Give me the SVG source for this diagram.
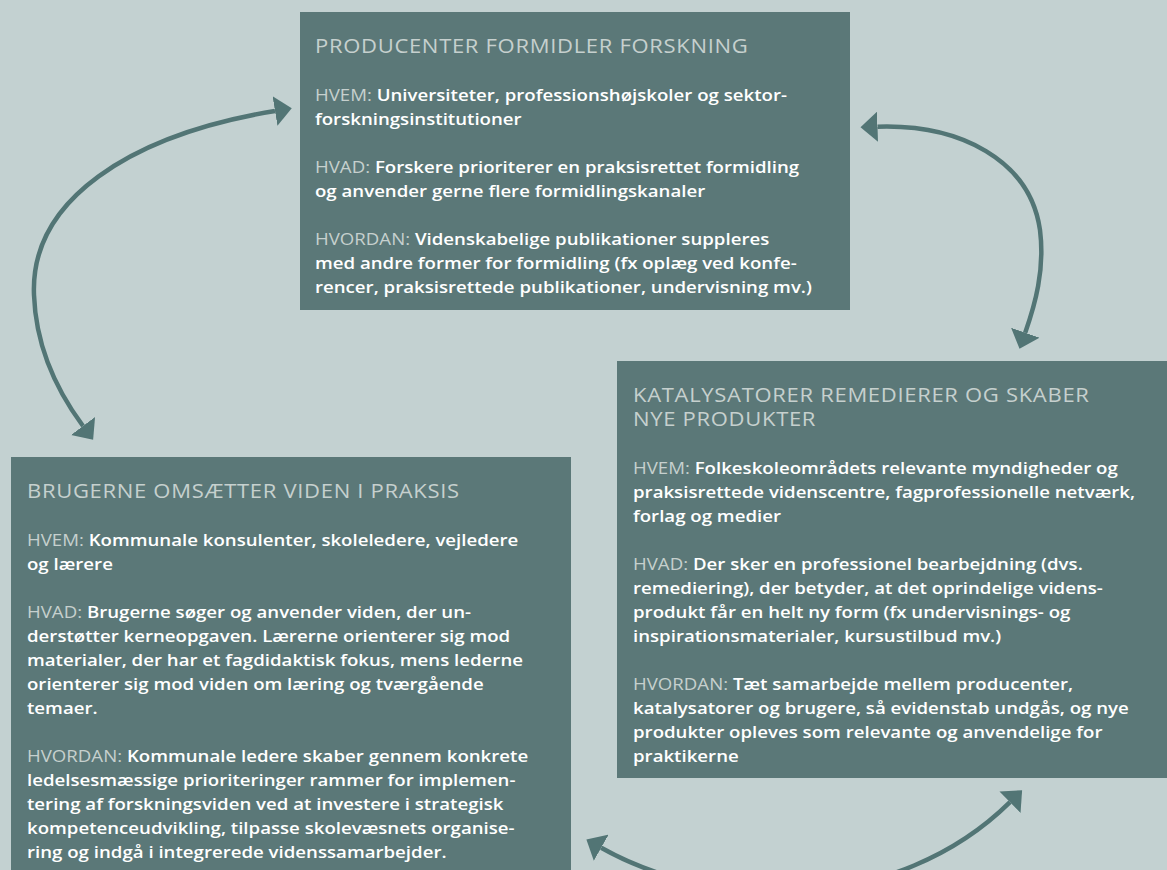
<svg xmlns="http://www.w3.org/2000/svg" width="1167" height="870" viewBox="0 0 1167 870">
<defs>
<style>
.bg{fill:#c3d1d1}
.box{fill:#5b7878}
.t{font-family:"Open Sans","Liberation Sans",sans-serif;font-size:19.5px;font-weight:400;fill:#c6d0ce;letter-spacing:0.6px}
.b{font-family:"Open Sans","Liberation Sans",sans-serif;font-size:16.5px;font-weight:600;fill:#ffffff}
.l{fill:#c6d0ce;font-weight:500}
.c{fill:none;stroke:#527575;stroke-width:4.5}
</style>
<marker id="ah" viewBox="0 -15 18 30" refX="0" refY="0" markerWidth="18" markerHeight="30" markerUnits="userSpaceOnUse" orient="auto-start-reverse">
<path d="M0,-15 L17,0 L0,15 Z" fill="#527575"/>
</marker>
</defs>
<rect class="bg" x="0" y="0" width="1167" height="870"/>
<g id="connectors">
<path class="c" d="M275,111 C130,135 30,200 34,295 C36,350 60,395 83,426" marker-start="url(#ah)" marker-end="url(#ah)"/>
<path class="c" d="M877.5,126.7 C960,124 1030,160 1040,230 C1045,270 1035,305 1025.2,332.7" marker-start="url(#ah)" marker-end="url(#ah)"/>
<path class="c" d="M601.2,847.8 C714.3,911.5 896.4,914.2 1010,802.2" marker-start="url(#ah)" marker-end="url(#ah)"/>
</g>
<g id="producenter">
<rect class="box" x="300" y="12" width="550" height="298"/>
<g transform="translate(315,0) scale(1.13,1)">
<text class="t" x="0" y="53">PRODUCENTER FORMIDLER FORSKNING</text>
<text class="b" x="0" y="101"><tspan class="l">HVEM:</tspan> Universiteter, professionshøjskoler og sektor-</text>
<text class="b" x="0" y="125">forskningsinstitutioner</text>
<text class="b" x="0" y="173"><tspan class="l">HVAD:</tspan> Forskere prioriterer en praksisrettet formidling</text>
<text class="b" x="0" y="197">og anvender gerne flere formidlingskanaler</text>
<text class="b" x="0" y="245"><tspan class="l">HVORDAN:</tspan> Videnskabelige publikationer suppleres</text>
<text class="b" x="0" y="269">med andre former for formidling (fx oplæg ved konfe-</text>
<text class="b" x="0" y="293">rencer, praksisrettede publikationer, undervisning mv.)</text>
</g>
</g>
<g id="katalysatorer">
<rect class="box" x="617" y="361" width="550" height="417"/>
<g transform="translate(633,0) scale(1.13,1)">
<text class="t" x="0" y="402">KATALYSATORER REMEDIERER OG SKABER</text>
<text class="t" x="0" y="426">NYE PRODUKTER</text>
<text class="b" x="0" y="474"><tspan class="l">HVEM:</tspan> Folkeskoleområdets relevante myndigheder og</text>
<text class="b" x="0" y="498">praksisrettede videnscentre, fagprofessionelle netværk,</text>
<text class="b" x="0" y="522">forlag og medier</text>
<text class="b" x="0" y="570"><tspan class="l">HVAD:</tspan> Der sker en professionel bearbejdning (dvs.</text>
<text class="b" x="0" y="594">remediering), der betyder, at det oprindelige videns-</text>
<text class="b" x="0" y="618">produkt får en helt ny form (fx undervisnings- og</text>
<text class="b" x="0" y="642">inspirationsmaterialer, kursustilbud mv.)</text>
<text class="b" x="0" y="690"><tspan class="l">HVORDAN:</tspan> Tæt samarbejde mellem producenter,</text>
<text class="b" x="0" y="714">katalysatorer og brugere, så evidenstab undgås, og nye</text>
<text class="b" x="0" y="738">produkter opleves som relevante og anvendelige for</text>
<text class="b" x="0" y="762">praktikerne</text>
</g>
</g>
<g id="brugerne">
<rect class="box" x="11" y="457" width="560" height="413"/>
<g transform="translate(27,0) scale(1.13,1)">
<text class="t" x="0" y="498">BRUGERNE OMSÆTTER VIDEN I PRAKSIS</text>
<text class="b" x="0" y="546"><tspan class="l">HVEM:</tspan> Kommunale konsulenter, skoleledere, vejledere</text>
<text class="b" x="0" y="570">og lærere</text>
<text class="b" x="0" y="618"><tspan class="l">HVAD:</tspan> Brugerne søger og anvender viden, der un-</text>
<text class="b" x="0" y="642">derstøtter kerneopgaven. Lærerne orienterer sig mod</text>
<text class="b" x="0" y="666">materialer, der har et fagdidaktisk fokus, mens lederne</text>
<text class="b" x="0" y="690">orienterer sig mod viden om læring og tværgående</text>
<text class="b" x="0" y="714">temaer.</text>
<text class="b" x="0" y="762"><tspan class="l">HVORDAN:</tspan> Kommunale ledere skaber gennem konkrete</text>
<text class="b" x="0" y="786">ledelsesmæssige prioriteringer rammer for implemen-</text>
<text class="b" x="0" y="810">tering af forskningsviden ved at investere i strategisk</text>
<text class="b" x="0" y="834">kompetenceudvikling, tilpasse skolevæsnets organise-</text>
<text class="b" x="0" y="858">ring og indgå i integrerede videnssamarbejder.</text>
</g>
</g>
</svg>
